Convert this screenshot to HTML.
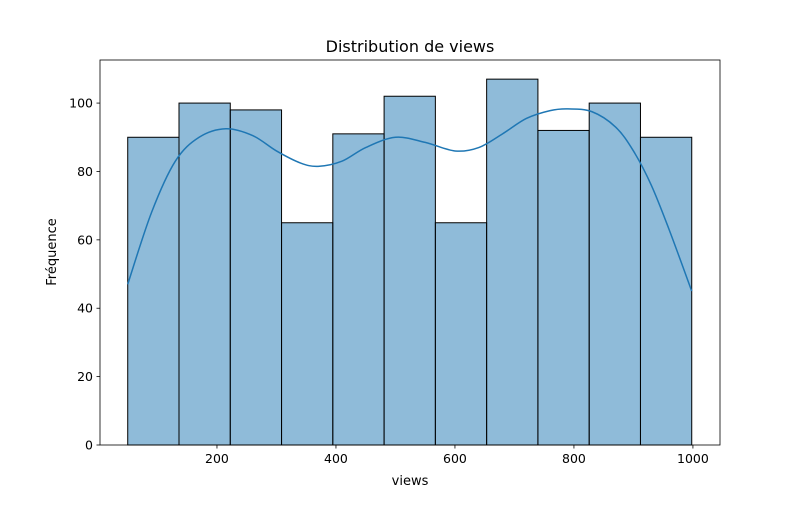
<!DOCTYPE html>
<html><head><meta charset="utf-8">
<style>
body{margin:0;background:#fff;font-family:"Liberation Sans","DejaVu Sans",sans-serif;}
svg text{font-family:"DejaVu Sans","Liberation Sans",sans-serif;}
</style></head>
<body>
<svg id="chart" width="800" height="500" xmlns="http://www.w3.org/2000/svg">
<rect x="0" y="0" width="800" height="500" fill="#fff"/>
<g id="bars"></g>
<g id="kde"></g>
<g id="axes"></g>
<text x="410" y="52" text-anchor="middle" font-size="16" fill="#000">Distribution de views</text>
<text x="410" y="485" text-anchor="middle" font-size="13" fill="#000">views</text>
<text x="0" y="0" transform="translate(56,252) rotate(-90)" text-anchor="middle" font-size="13" fill="#000">Fréquence</text>
</svg>
<script>
const binStart = 50;
const binEnd = 998;
const counts = [90,100,98,65,91,102,65,107,92,100,90];
const xTicks = [200,400,600,800,1000];
const yTicks = [0,20,40,60,80,100];
const kdeX = [50,90,130,170,215,260,300,340,370,410,450,500,550,600,640,680,720,760,790,830,870,900,930,960,998];
const kdeY = [47,68,83,90,92.5,90.5,86,82.5,81.5,83,87,90,88.5,86,87,91,95.5,97.8,98.3,97.5,93,86,76,63,45];

const L=100,R=720,T=60,B=445;
const xMin=3.4,xMax=1045.5,yMin=0,yMax=112.6;
function sx(v){return L+(v-xMin)/(xMax-xMin)*(R-L);}
function sy(v){return B-(v-yMin)/(yMax-yMin)*(B-T);}
const NS="http://www.w3.org/2000/svg";
function mk(tag,attrs,parent){const e=document.createElementNS(NS,tag);for(const k in attrs)e.setAttribute(k,attrs[k]);parent.appendChild(e);return e;}

const bars=document.getElementById('bars');
const w=(binEnd-binStart)/counts.length;
counts.forEach((c,i)=>{
  const x0=sx(binStart+i*w),x1=sx(binStart+(i+1)*w);
  const r=mk('rect',{x:x0,y:sy(c),width:x1-x0,height:sy(0)-sy(c),fill:'rgba(31,119,180,0.5)',stroke:'#000','stroke-width':1},bars);
  
  
});

const kde=document.getElementById('kde');
const pts=kdeX.map((x,i)=>[sx(x),sy(kdeY[i])]);
let d='M'+pts[0][0].toFixed(2)+','+pts[0][1].toFixed(2);
for(let i=0;i<pts.length-1;i++){
  const p0=pts[Math.max(i-1,0)],p1=pts[i],p2=pts[i+1],p3=pts[Math.min(i+2,pts.length-1)];
  const c1x=p1[0]+(p2[0]-p0[0])/6,c1y=p1[1]+(p2[1]-p0[1])/6;
  const c2x=p2[0]-(p3[0]-p1[0])/6,c2y=p2[1]-(p3[1]-p1[1])/6;
  d+='C'+c1x.toFixed(2)+','+c1y.toFixed(2)+' '+c2x.toFixed(2)+','+c2y.toFixed(2)+' '+p2[0].toFixed(2)+','+p2[1].toFixed(2);
}
const p=mk('path',{d:d,fill:'none',stroke:'#1f77b4','stroke-width':1.5,'stroke-linejoin':'round'},kde);



const ax=document.getElementById('axes');
const frame=mk('rect',{x:L,y:T,width:R-L,height:B-T,fill:'none',stroke:'#000','stroke-width':0.8},ax);


xTicks.forEach(t=>{
  const x=sx(t);
  mk('line',{x1:x,x2:x,y1:B,y2:B+3.5,stroke:'#000','stroke-width':0.8},ax);
  const tx=mk('text',{x:x,y:B+18,'text-anchor':'middle','font-size':12.5,fill:'#000'},ax);
  tx.textContent=t;
  
  
});
yTicks.forEach(t=>{
  const y=sy(t);
  mk('line',{x1:L-3.5,x2:L,y1:y,y2:y,stroke:'#000','stroke-width':0.8},ax);
  const tx=mk('text',{x:L-7,y:y+4.5,'text-anchor':'end','font-size':12.5,fill:'#000'},ax);
  tx.textContent=t;
  
  
});
</script>
</body></html>
